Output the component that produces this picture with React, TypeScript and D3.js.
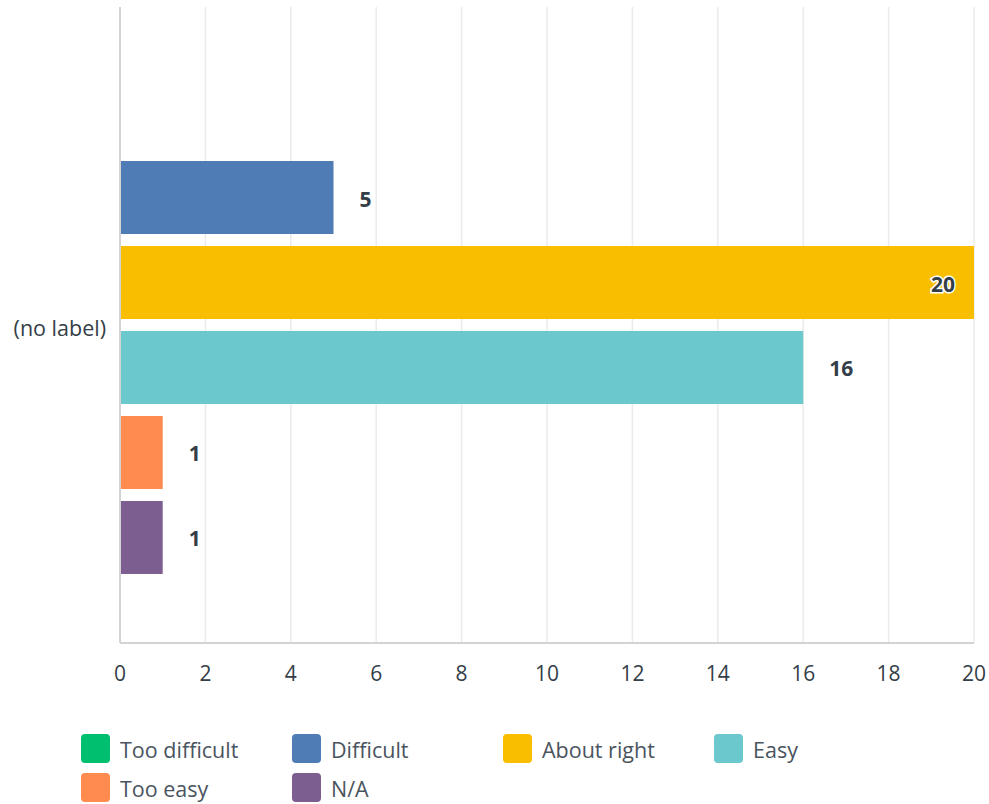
import React, { useRef, useEffect } from "react";
import * as d3 from "d3";

const categories = ["(no label)"];
const seriesNames = ["Too difficult", "Difficult", "About right", "Easy", "Too easy", "N/A"];
const seriesValues = [0, 5, 20, 16, 1, 1];
const seriesColors = ["#00bf6f", "#507cb6", "#f9be00", "#6bc8cd", "#ff8b4f", "#7d5e90"];
const xTicks = [0, 2, 4, 6, 8, 10, 12, 14, 16, 18, 20];

const WIDTH = 989;
const HEIGHT = 804;
const margin = { top: 7, right: 15, bottom: 161, left: 120 };
const FONT = "'Open Sans', 'Noto Sans', sans-serif";
const TEXT = "#333e48";

const App = () => {
  const svgRef = useRef(null);

  useEffect(() => {
    const chartWidth = WIDTH - margin.left - margin.right;
    const chartHeight = HEIGHT - margin.top - margin.bottom;

    const svg = d3.select(svgRef.current);
    svg.selectAll("*").remove();

    const chart = svg
      .append("g")
      .attr("transform", `translate(${margin.left}, ${margin.top})`);

    // Scales
    const xScale = d3.scaleLinear().domain([0, 20]).range([0, chartWidth]);
    const y0 = d3
      .scaleBand()
      .domain(categories)
      .range([0, chartHeight])
      .paddingInner(0)
      .paddingOuter(0.1386);
    const y1 = d3
      .scaleBand()
      .domain(seriesNames)
      .range([0, y0.bandwidth()])
      .paddingInner(12 / 85)
      .paddingOuter(0);

    // Grid lines
    chart
      .selectAll("line.grid")
      .data(xTicks.filter((t) => t > 0))
      .enter()
      .append("line")
      .attr("class", "grid")
      .attr("x1", (d) => xScale(d))
      .attr("x2", (d) => xScale(d))
      .attr("y1", 0)
      .attr("y2", chartHeight)
      .attr("stroke", "#ebebeb")
      .attr("stroke-width", 1.5);

    // Bars
    const rows = seriesNames.map((name, i) => ({
      category: categories[0],
      name,
      value: seriesValues[i],
      color: seriesColors[i],
    }));

    const group = chart
      .append("g")
      .attr("transform", `translate(0, ${y0(categories[0])})`);

    group
      .selectAll("rect")
      .data(rows.filter((d) => d.value > 0))
      .enter()
      .append("rect")
      .attr("x", xScale(0))
      .attr("y", (d) => y1(d.name))
      .attr("width", (d) => xScale(d.value) - xScale(0))
      .attr("height", y1.bandwidth())
      .attr("fill", (d) => d.color);

    // Value labels
    group
      .selectAll("text.value")
      .data(rows.filter((d) => d.value > 0))
      .enter()
      .append("text")
      .attr("class", "value")
      .attr("x", (d) => (d.value >= 20 ? xScale(d.value) - 19 : xScale(d.value) + 26))
      .attr("y", (d) => y1(d.name) + y1.bandwidth() / 2 + 1)
      .attr("text-anchor", (d) => (d.value >= 20 ? "end" : "start"))
      .attr("dominant-baseline", "central")
      .attr("font-family", FONT)
      .attr("font-weight", 700)
      .attr("font-size", 21)
      .attr("fill", TEXT)
      .attr("stroke", (d) => (d.value >= 20 ? "#ffffff" : "none"))
      .attr("stroke-width", 3)
      .attr("paint-order", "stroke")
      .text((d) => d.value);

    // Axes lines
    chart
      .append("line")
      .attr("x1", 0)
      .attr("x2", 0)
      .attr("y1", 0)
      .attr("y2", chartHeight)
      .attr("stroke", "#d3d3d3")
      .attr("stroke-width", 2);
    chart
      .append("line")
      .attr("x1", 0)
      .attr("x2", chartWidth)
      .attr("y1", chartHeight)
      .attr("y2", chartHeight)
      .attr("stroke", "#d3d3d3")
      .attr("stroke-width", 2);

    // X tick labels
    chart
      .selectAll("text.tick")
      .data(xTicks)
      .enter()
      .append("text")
      .attr("class", "tick")
      .attr("x", (d) => xScale(d))
      .attr("y", chartHeight + 30)
      .attr("text-anchor", "middle")
      .attr("dominant-baseline", "central")
      .attr("font-family", FONT)
      .attr("font-size", 21)
      .attr("fill", TEXT)
      .text((d) => d);

    // Category label
    chart
      .selectAll("text.cat")
      .data(categories)
      .enter()
      .append("text")
      .attr("class", "cat")
      .attr("x", -14)
      .attr("y", (d) => y0(d) + y0.bandwidth() / 2 + 2)
      .attr("text-anchor", "end")
      .attr("dominant-baseline", "central")
      .attr("font-family", FONT)
      .attr("font-size", 21.5)
      .attr("fill", TEXT)
      .text((d) => d);

    // Legend
    const legend = svg.append("g").attr("transform", "translate(81, 734)");
    const items = legend
      .selectAll("g")
      .data(rows)
      .enter()
      .append("g")
      .attr("transform", (d, i) => `translate(${(i % 4) * 211}, ${Math.floor(i / 4) * 39})`);
    items
      .append("rect")
      .attr("width", 29)
      .attr("height", 29)
      .attr("rx", 4)
      .attr("fill", (d) => d.color);
    items
      .append("text")
      .attr("x", 39)
      .attr("y", 15)
      .attr("dominant-baseline", "central")
      .attr("font-family", FONT)
      .attr("font-size", 21.5)
      .attr("fill", "#4a545e")
      .text((d) => d.name);
  }, []);

  return (
    <svg
      ref={svgRef}
      width={WIDTH}
      height={HEIGHT}
      style={{ position: "absolute", left: 0, top: 0, background: "#fff" }}
    ></svg>
  );
};

export default App;
